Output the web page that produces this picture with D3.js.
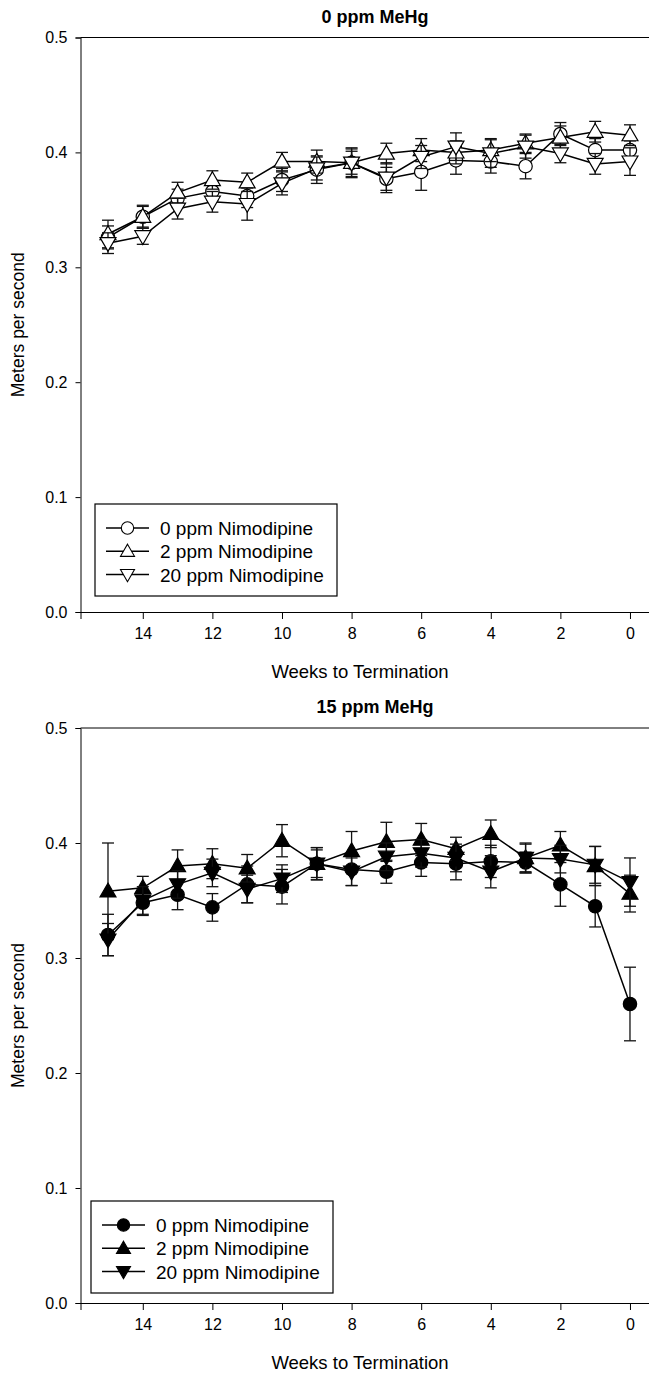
<!DOCTYPE html>
<html>
<head>
<meta charset="utf-8">
<script src="https://cdn.jsdelivr.net/npm/d3@7"></script>
<style>
  body { margin: 0; background: #fff; }
  svg { display: block; font-family: "Liberation Sans", Arial, sans-serif; }
</style>
</head>
<body>
<div id="chart"></div>
<script>
// weeks to termination (x)
const weeks = [15, 14, 13, 12, 11, 10, 9, 8, 7, 6, 5, 4, 3, 2, 1, 0];
const seriesNames = ["0 ppm Nimodipine", "2 ppm Nimodipine", "20 ppm Nimodipine"];
const yTicks = [0.0, 0.1, 0.2, 0.3, 0.4, 0.5];
const xTicks = [14, 12, 10, 8, 6, 4, 2, 0];

// 0 ppm MeHg
const top0 = [0.326, 0.344, 0.360, 0.366, 0.362, 0.376, 0.385, 0.391, 0.377, 0.383, 0.393, 0.392, 0.388, 0.416, 0.402, 0.402];
const top0Err = [0.010, 0.009, 0.008, 0.008, 0.010, 0.010, 0.012, 0.012, 0.010, 0.016, 0.012, 0.010, 0.011, 0.010, 0.010, 0.008];
const top2 = [0.329, 0.344, 0.365, 0.376, 0.374, 0.392, 0.392, 0.391, 0.399, 0.402, 0.400, 0.402, 0.408, 0.413, 0.418, 0.415];
const top2Err = [0.012, 0.010, 0.009, 0.008, 0.008, 0.008, 0.010, 0.013, 0.009, 0.010, 0.010, 0.010, 0.008, 0.010, 0.009, 0.009];
const top20 = [0.321, 0.327, 0.351, 0.357, 0.355, 0.373, 0.386, 0.391, 0.378, 0.396, 0.405, 0.399, 0.405, 0.399, 0.390, 0.392];
const top20Err = [0.009, 0.007, 0.009, 0.009, 0.014, 0.010, 0.010, 0.010, 0.013, 0.010, 0.012, 0.012, 0.010, 0.008, 0.009, 0.012];

// 15 ppm MeHg
const bot0 = [0.320, 0.348, 0.355, 0.344, 0.364, 0.362, 0.382, 0.377, 0.375, 0.383, 0.382, 0.384, 0.383, 0.364, 0.345, 0.260];
const bot0Err = [0.018, 0.011, 0.013, 0.012, 0.016, 0.015, 0.014, 0.014, 0.010, 0.012, 0.014, 0.014, 0.009, 0.019, 0.018, 0.032];
const bot2 = [0.358, 0.361, 0.380, 0.382, 0.378, 0.402, 0.382, 0.393, 0.401, 0.403, 0.395, 0.408, 0.387, 0.398, 0.380, 0.356];
const bot2Err = [0.042, 0.010, 0.014, 0.013, 0.012, 0.014, 0.014, 0.017, 0.017, 0.014, 0.010, 0.012, 0.013, 0.012, 0.017, 0.016];
const bot20 = [0.316, 0.350, 0.364, 0.374, 0.360, 0.369, 0.382, 0.375, 0.388, 0.391, 0.387, 0.375, 0.387, 0.386, 0.381, 0.366];
const bot20Err = [0.014, 0.012, 0.012, 0.012, 0.012, 0.012, 0.012, 0.012, 0.012, 0.012, 0.012, 0.014, 0.012, 0.012, 0.016, 0.021];

const width = 649, height = 1375;
const left = 80.5, right = 670;

const svg = d3.select("#chart").append("svg")
  .attr("width", width)
  .attr("height", height);

const x = d3.scaleLinear().domain([15.79, -1.15]).range([left, right]);

const symbols = [d3.symbolCircle, d3.symbolTriangle, d3.symbolTriangle];
const rotations = [0, 0, 180];

function panel(cfg) {
  const y = d3.scaleLinear().domain([0, 0.5]).range([cfg.bottom, cfg.top]);
  const g = svg.append("g");

  // frame top line
  g.append("line")
    .attr("x1", left).attr("x2", right)
    .attr("y1", y(0.5)).attr("y2", y(0.5))
    .attr("stroke", "#000").attr("stroke-width", 1);

  const yAxis = g.append("g")
    .attr("transform", `translate(${left},0)`)
    .call(d3.axisLeft(y).tickValues(yTicks).tickFormat(d3.format(".1f")).tickSizeOuter(0).tickSize(5).tickPadding(8));
  const xAxis = g.append("g")
    .attr("transform", `translate(0,${cfg.bottom})`)
    .call(d3.axisBottom(x).tickValues(xTicks).tickSizeOuter(0).tickSize(7).tickPadding(9));
  [yAxis, xAxis].forEach(a => {
    a.select(".domain").attr("stroke", "#000");
    a.selectAll(".tick line").attr("stroke", "#000");
    a.selectAll("text").attr("font-size", 16).attr("fill", "#000")
      .attr("font-family", "'Liberation Sans', Arial, sans-serif");
  });

  // titles
  g.append("text")
    .attr("x", 375).attr("y", cfg.top - 15)
    .attr("text-anchor", "middle")
    .attr("font-size", 18).attr("font-weight", "bold")
    .text(cfg.title);
  g.append("text")
    .attr("x", 360).attr("y", cfg.bottom + 66)
    .attr("text-anchor", "middle")
    .attr("font-size", 18.5)
    .text("Weeks to Termination");
  g.append("text")
    .attr("transform", `translate(24,${(cfg.top + cfg.bottom) / 2}) rotate(-90)`)
    .attr("text-anchor", "middle")
    .attr("font-size", 17.5)
    .text("Meters per second");

  const line = d3.line().x(d => x(d.w)).y(d => y(d.v));

  cfg.series.forEach((s, i) => {
    const pts = weeks.map((w, j) => ({ w, v: s.values[j], e: s.errors[j] }));
    const sg = g.append("g");

    sg.append("path")
      .attr("d", line(pts))
      .attr("fill", "none")
      .attr("stroke", "#000")
      .attr("stroke-width", 1.5);

    const eb = sg.selectAll(".eb").data(pts).enter().append("g");
    eb.append("line")
      .attr("x1", d => x(d.w)).attr("x2", d => x(d.w))
      .attr("y1", d => y(d.v - d.e)).attr("y2", d => y(d.v + d.e));
    eb.append("line")
      .attr("x1", d => x(d.w) - 6).attr("x2", d => x(d.w) + 6)
      .attr("y1", d => y(d.v + d.e)).attr("y2", d => y(d.v + d.e));
    eb.append("line")
      .attr("x1", d => x(d.w) - 6).attr("x2", d => x(d.w) + 6)
      .attr("y1", d => y(d.v - d.e)).attr("y2", d => y(d.v - d.e));
    eb.selectAll("line").attr("stroke", "#111").attr("stroke-width", 1.3);

    sg.selectAll(".pt").data(pts).enter().append("path")
      .attr("d", d3.symbol().type(symbols[i]).size(i === 0 ? 140 : 110))
      .attr("transform", d => `translate(${x(d.w)},${y(d.v) + (i === 1 ? 1 : i === 2 ? -1 : 0)}) rotate(${rotations[i]})`)
      .attr("fill", cfg.filled ? "#000" : "#fff")
      .attr("stroke", "#000")
      .attr("stroke-width", 1.2);
  });

  // legend
  const lg = g.append("g");
  lg.append("rect")
    .attr("x", cfg.legend.x).attr("y", cfg.legend.y)
    .attr("width", 242).attr("height", 92)
    .attr("fill", "#fff").attr("stroke", "#000").attr("stroke-width", 1.2);
  seriesNames.forEach((name, i) => {
    const cy = cfg.legend.y + 24 + i * 23.3;
    const lx = cfg.legend.x + 11;
    lg.append("line")
      .attr("x1", lx).attr("x2", lx + 43)
      .attr("y1", cy).attr("y2", cy)
      .attr("stroke", "#000").attr("stroke-width", 1.5);
    lg.append("path")
      .attr("d", d3.symbol().type(symbols[i]).size(i === 0 ? 120 : 85))
      .attr("transform", `translate(${lx + 21.5},${cy + (i === 1 ? 1 : i === 2 ? -1 : 0)}) rotate(${rotations[i]})`)
      .attr("fill", cfg.filled ? "#000" : "#fff")
      .attr("stroke", "#000").attr("stroke-width", 1.1);
    lg.append("text")
      .attr("x", lx + 54).attr("y", cy + 7)
      .attr("font-size", 19)
      .text(name);
  });
}

panel({
  title: "0 ppm MeHg", top: 37.5, bottom: 612, filled: false,
  legend: { x: 95, y: 504 },
  series: [
    { values: top0, errors: top0Err },
    { values: top2, errors: top2Err },
    { values: top20, errors: top20Err }
  ]
});

panel({
  title: "15 ppm MeHg", top: 728, bottom: 1303, filled: true,
  legend: { x: 91, y: 1201 },
  series: [
    { values: bot0, errors: bot0Err },
    { values: bot2, errors: bot2Err },
    { values: bot20, errors: bot20Err }
  ]
});
</script>
</body>
</html>
